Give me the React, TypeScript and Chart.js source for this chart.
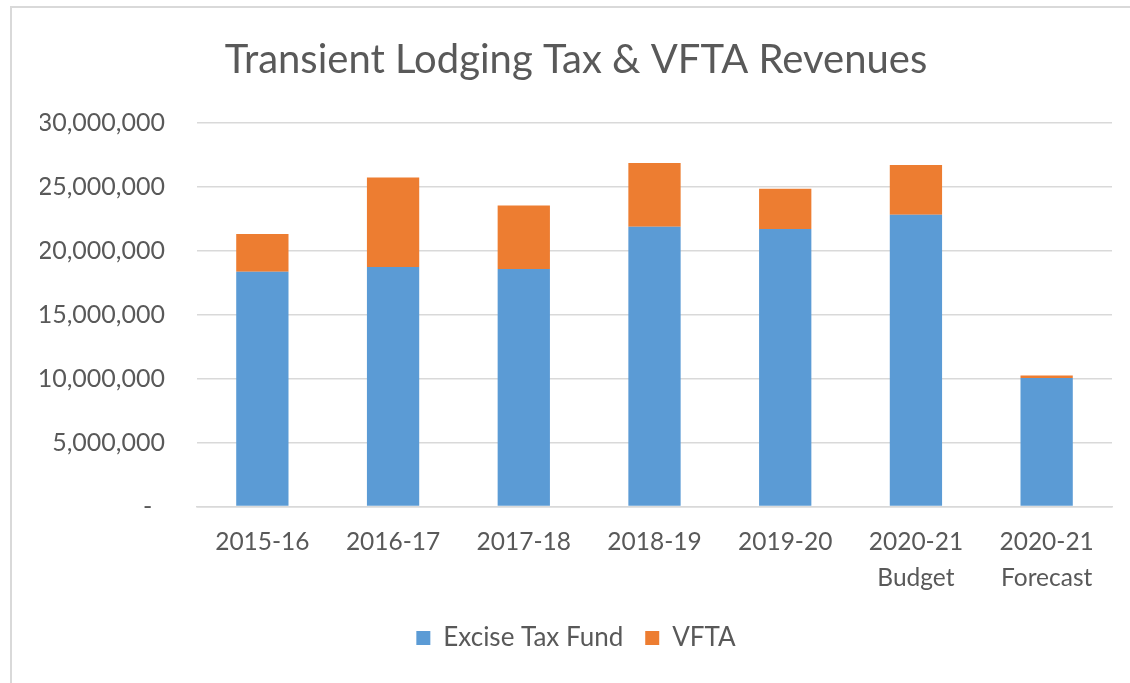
import React, { useEffect, useRef } from "react";
import { Chart, registerables } from "chart.js";

Chart.register(...registerables);

const categories: (string | string[])[] = [
  "2015-16",
  "2016-17",
  "2017-18",
  "2018-19",
  "2019-20",
  ["2020-21", "Budget"],
  ["2020-21", "Forecast"],
];
const exciseTaxFund = [18360000, 18730000, 18570000, 21890000, 21700000, 22820000, 10050000];
const vfta = [2950000, 7010000, 4980000, 4980000, 3160000, 3890000, 200000];
const seriesNames = ["Excise Tax Fund", "VFTA"];
const yTicksMax = 30000000;
const yTickStep = 5000000;

const FONT = "Lato, 'Open Sans', sans-serif";
const TEXT = "#595959";
const GRID = "#D9D9D9";

export default function App() {
  const canvasRef = useRef<HTMLCanvasElement | null>(null);

  useEffect(() => {
    const canvas = canvasRef.current;
    if (!canvas) return;
    const chart = new Chart(canvas, {
      type: "bar",
      data: {
        labels: categories,
        datasets: [
          {
            label: seriesNames[0],
            data: exciseTaxFund,
            backgroundColor: "#5B9BD5",
            borderWidth: 0,
          },
          {
            label: seriesNames[1],
            data: vfta,
            backgroundColor: "#ED7D31",
            borderWidth: 0,
          },
        ],
      },
      options: {
        responsive: false,
        animation: false,
        devicePixelRatio: 1,
        layout: { padding: { left: 40, right: 18, top: 0, bottom: 22 } },
        datasets: {
          bar: { barPercentage: 0.4, categoryPercentage: 1 },
        },
        plugins: {
          title: {
            display: true,
            text: "Transient Lodging Tax & VFTA Revenues",
            color: TEXT,
            font: { family: FONT, size: 40, weight: "normal", lineHeight: 1.2 },
            padding: { top: 36, bottom: 39 },
          },
          legend: {
            position: "bottom",
            labels: {
              color: TEXT,
              font: { family: FONT, size: 26 },
              boxWidth: 14,
              boxHeight: 14,
              padding: 22,
            },
          },
          tooltip: { enabled: false },
        },
        scales: {
          x: {
            stacked: true,
            afterFit: (scale: any) => {
              scale.height = 96.5;
            },
            grid: { display: false, drawTicks: false },
            border: { display: true, color: GRID, width: 1.5 },
            ticks: {
              color: TEXT,
              font: { family: FONT, size: 24.5, lineHeight: 1.45 },
              padding: 18,
              maxRotation: 0,
              autoSkip: false,
            },
          },
          y: {
            stacked: true,
            min: 0,
            max: yTicksMax,
            afterFit: (scale: any) => {
              scale.width = 157;
            },
            grid: { color: GRID, lineWidth: 1.5, drawTicks: false },
            border: { display: false },
            ticks: {
              stepSize: yTickStep,
              color: TEXT,
              font: { family: FONT, size: 25 },
              padding: 32,
              callback: (v: any) =>
                Number(v) === 0 ? "-  " : Number(v).toLocaleString("en-US"),
            },
          },
        },
      },
    });
    return () => chart.destroy();
  }, []);

  return (
    <div
      style={{
        position: "absolute",
        left: 0,
        top: 0,
        width: 1130,
        height: 683,
        overflow: "hidden",
        background: "#ffffff",
      }}
    >
      <canvas
        ref={canvasRef}
        width={1130}
        height={683}
        style={{ position: "absolute", left: 0, top: 0, display: "block" }}
      />
      <div
        style={{
          position: "absolute",
          left: 10,
          top: 6,
          width: 1140,
          height: 700,
          border: "2px solid #D9D9D9",
          pointerEvents: "none",
        }}
      />
    </div>
  );
}
